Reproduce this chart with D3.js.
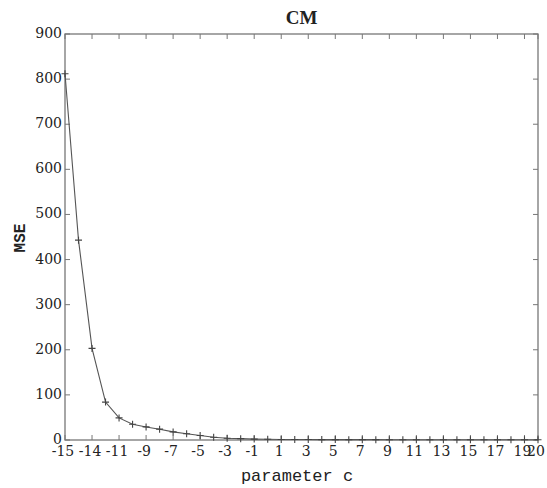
<!DOCTYPE html>
<html>
<head>
<meta charset="utf-8">
<script src="https://cdn.jsdelivr.net/npm/d3@7"></script>
<style>
  body { margin: 0; background: #fff; }
  text { fill: #222; }
</style>
</head>
<body>
<script>
// parameter c values and the MSE
const cValues = [-15, -14, -13, -12, -11, -10, -9, -8, -7, -6, -5, -4, -3, -2, -1, 0,
                 1, 2, 3, 4, 5, 6, 7, 8, 9, 10, 11, 12, 13, 14, 15, 16, 17, 18, 19, 20];
const mseValues = [812, 443, 203, 84, 49, 35, 29, 24, 18, 14, 10, 6, 4, 3, 2, 1.5,
                   1.2, 1.1, 1.0, 0.9, 0.9, 0.8, 0.8, 0.8, 0.7, 0.7, 0.7, 0.7, 0.6, 0.6, 0.6, 0.6, 0.6, 0.5, 0.5, 0.5];

const xTickValues = [-15, -13, -11, -9, -7, -5, -3, -1, 1, 3, 5, 7, 9, 11, 13, 15, 17, 19, 20];
const xTickLabels = ["-15", "-14", "-11", "-9", "-7", "-5", "-3", "-1", "1", "3", "5", "7", "9", "11", "13", "15", "17", "19", "20"];
const yTickValues = [0, 100, 200, 300, 400, 500, 600, 700, 800, 900];

const w = 547, h = 488;
const plotLeft = 65, plotRight = 538, plotTop = 34, plotBottom = 440;

const svg = d3.select("body").append("svg")
    .attr("width", w)
    .attr("height", h);

const x = d3.scaleLinear().domain([-15, 20]).range([plotLeft, plotRight]);
const y = d3.scaleLinear().domain([0, 900]).range([plotBottom, plotTop]);

const axisColor = "#777";
const tickFont = "DejaVu Serif";

// box
svg.append("rect")
    .attr("x", plotLeft).attr("y", plotTop)
    .attr("width", plotRight - plotLeft).attr("height", plotBottom - plotTop)
    .attr("fill", "none")
    .attr("stroke", axisColor)
    .attr("stroke-width", 1.3);

// ticks pointing inward on all four sides
const tl = 5;
svg.append("g").selectAll("line").data(xTickValues).join("line")
    .attr("x1", d => x(d)).attr("x2", d => x(d))
    .attr("y1", plotBottom).attr("y2", plotBottom - tl)
    .attr("stroke", axisColor);
svg.append("g").selectAll("line").data(xTickValues).join("line")
    .attr("x1", d => x(d)).attr("x2", d => x(d))
    .attr("y1", plotTop).attr("y2", plotTop + tl)
    .attr("stroke", axisColor);
svg.append("g").selectAll("line").data(yTickValues).join("line")
    .attr("x1", plotLeft).attr("x2", plotLeft + tl)
    .attr("y1", d => y(d)).attr("y2", d => y(d))
    .attr("stroke", axisColor);
svg.append("g").selectAll("line").data(yTickValues).join("line")
    .attr("x1", plotRight).attr("x2", plotRight - tl)
    .attr("y1", d => y(d)).attr("y2", d => y(d))
    .attr("stroke", axisColor);

// tick labels
svg.append("g").selectAll("text").data(xTickValues).join("text")
    .attr("x", d => x(d) - 2)
    .attr("y", plotBottom + 16)
    .attr("text-anchor", "middle")
    .attr("font-family", tickFont)
    .attr("font-size", 14)
    .text((d, i) => xTickLabels[i]);

svg.append("g").selectAll("text").data(yTickValues).join("text")
    .attr("x", plotLeft - 3)
    .attr("y", d => y(d) - 1)
    .attr("dy", "0.36em")
    .attr("text-anchor", "end")
    .attr("font-family", tickFont)
    .attr("font-size", 14)
    .text(d => d);

// data line
const line = d3.line().x((d, i) => x(cValues[i])).y(d => y(d));
svg.append("path")
    .datum(mseValues)
    .attr("d", line)
    .attr("fill", "none")
    .attr("stroke", "#555")
    .attr("stroke-width", 1.1);

// plus markers
const m = 3.5;
svg.append("g").selectAll("path").data(mseValues).join("path")
    .attr("d", (d, i) => {
        const px = x(cValues[i]), py = y(d);
        return `M${px - m},${py}H${px + m}M${px},${py - m}V${py + m}`;
    })
    .attr("stroke", "#444")
    .attr("stroke-width", 1.1);

// title and axis labels
svg.append("text")
    .attr("x", (plotLeft + plotRight) / 2)
    .attr("y", 24)
    .attr("text-anchor", "middle")
    .attr("font-family", "Liberation Serif")
    .attr("font-weight", "bold")
    .attr("font-size", 19)
    .text("CM");

svg.append("text")
    .attr("x", 297)
    .attr("y", 481)
    .attr("text-anchor", "middle")
    .attr("font-family", "Liberation Mono")
    .attr("font-size", 17)
    .text("parameter c");

svg.append("text")
    .attr("transform", "translate(25,238) rotate(-90)")
    .attr("text-anchor", "middle")
    .attr("font-family", "Liberation Mono")
    .attr("font-weight", "bold")
    .attr("font-size", 16)
    .text("MSE");
</script>
</body>
</html>
